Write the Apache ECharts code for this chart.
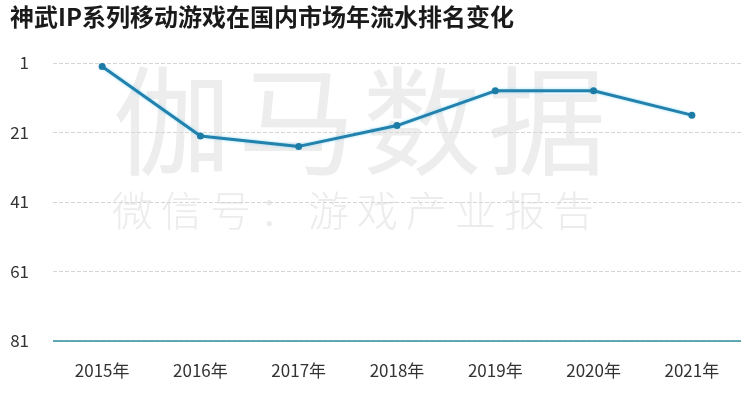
<!DOCTYPE html>
<html><head><meta charset="utf-8">
<script src="https://cdn.jsdelivr.net/npm/echarts@6/dist/echarts.min.js"></script>
<style>html,body{margin:0;padding:0;background:#fff}#c{width:750px;height:397px}</style>
</head><body><div id="c"></div>
<script>
const title = '神武IP系列移动游戏在国内市场年流水排名变化';
const categories = ['2015年','2016年','2017年','2018年','2019年','2020年','2021年'];
const ranks = [2, 22, 25, 19, 9, 9, 16];
const yTicks = [1, 21, 41, 61, 81];
const wmBig = '伽马数据';
const wmSmall = '微信号：游戏产业报告';

const font = '"Noto Sans CJK SC", "Open Sans", sans-serif';
const graphics = [];
wmBig.split('').forEach((ch, i) => {
  graphics.push({type:'text', left: 113 + i*125, top: 62, z: -10, silent: true,
    style:{text: ch, font: '118px "Noto Sans CJK SC"', fill: '#ededed'}});
});
wmSmall.split('').forEach((ch, i) => {
  graphics.push({type:'text', left: 112 + i*49, top: 190, z: -10, silent: true,
    style:{text: ch, font: '300 41px "Noto Sans CJK SC"', fill: '#ececec'}});
});
graphics.push({type:'text', left: 10, top: 5, style:{text: title, font: 'bold 24px "Noto Sans CJK SC"', fill:'#1a1a1a'}});

const chart = echarts.init(document.getElementById('c'));
chart.setOption({
  backgroundColor: '#fff',
  animation: false,
  graphic: graphics,
  grid: {left: 53, right: 9, top: 63, bottom: 56},
  xAxis: {
    type: 'category', data: categories, boundaryGap: true,
    axisLine: {show: false}, axisTick: {show: false},
    axisLabel: {color: '#333', fontSize: 17, fontFamily: font, margin: 21}
  },
  yAxis: {
    type: 'value', inverse: true, min: yTicks[0], max: yTicks[yTicks.length-1], interval: 20,
    axisLine: {show: false}, axisTick: {show: false},
    axisLabel: {color: '#333', fontSize: 17, fontFamily: font, margin: 24},
    splitLine: {lineStyle: {color: '#d6d6d6', type: 'dashed', width: 1}}
  },
  series: [{
    type: 'line', data: ranks, symbol: 'circle', symbolSize: 7,
    lineStyle: {color: '#2282ad', width: 3, shadowColor: 'rgba(90,200,240,0.6)', shadowBlur: 3},
    itemStyle: {color: '#1c7ca6'},
    markLine: {silent: true, symbol: 'none', label: {show: false},
      lineStyle: {color: '#2f8f99', type: 'solid', width: 1.5},
      data: [{yAxis: yTicks[yTicks.length-1]}]}
  }]
});
</script></body></html>
